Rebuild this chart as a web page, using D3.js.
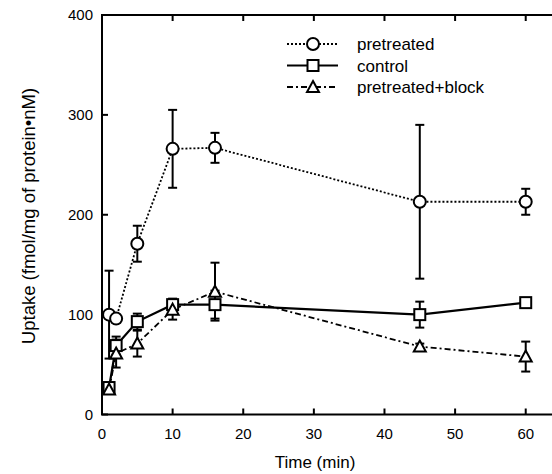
<!DOCTYPE html>
<html>
<head>
<meta charset="UTF-8">
<script src="https://d3js.org/d3.v7.min.js"></script>
<style>
  body { margin: 0; background: #fff; overflow: hidden; }
  svg text { font-family: "Liberation Sans", Arial, sans-serif; fill: #000; }
</style>
</head>
<body>
<div id="chart"></div>
<script>
// data
const times = [1, 2, 5, 10, 16, 45, 60];
const pretreated = [100, 96, 171, 266, 267, 213, 213];
const pretreatedErr = [44, 4, 18, 39, 15, 77, 13];
const control = [27, 69, 93, 110, 110, 100, 112];
const controlErr = [4, 9, 8, 6, 14, 13, 0];
const block = [25, 61, 71, 105, 123, 68, 58];
const blockErr = [3, 14, 13, 10, 29, 3, 15];
const xTicks = [0, 10, 20, 30, 40, 50, 60];
const yTicks = [0, 100, 200, 300, 400];

const series = [
  {name: "pretreated", vals: pretreated, err: pretreatedErr, shape: "circle", dash: "2,2", lw: 1.8},
  {name: "control", vals: control, err: controlErr, shape: "square", dash: null, lw: 2.2},
  {name: "pretreated+block", vals: block, err: blockErr, shape: "triangle", dash: "6,3,2,3", lw: 1.8}
];

const W = 552, H = 474;

const svg = d3.select("#chart").append("svg")
  .attr("width", W).attr("height", H);

const x = d3.scaleLinear().domain([0, 66]).range([102, 102 + 66 * 7.062]);
const y = d3.scaleLinear().domain([0, 400]).range([414.5, 15]);

// frame (left, top, bottom) with inward ticks; right side falls outside the crop
const g = svg.append("g");
g.append("path")
  .attr("d", `M${W},${y(400)}H${x(0)}V${y(0)}H${W}`)
  .attr("fill", "none").attr("stroke", "#000").attr("stroke-width", 2);

g.selectAll(".xt").data(xTicks).enter().append("line")
  .attr("x1", d => x(d)).attr("x2", d => x(d))
  .attr("y1", y(0)).attr("y2", y(0) - 6)
  .attr("stroke", "#000").attr("stroke-width", 2);
g.selectAll(".xtt").data(xTicks).enter().append("line")
  .attr("x1", d => x(d)).attr("x2", d => x(d))
  .attr("y1", y(400)).attr("y2", y(400) + 6)
  .attr("stroke", "#000").attr("stroke-width", 2);
g.selectAll(".yt").data(yTicks).enter().append("line")
  .attr("x1", x(0)).attr("x2", x(0) + 6)
  .attr("y1", d => y(d)).attr("y2", d => y(d))
  .attr("stroke", "#000").attr("stroke-width", 2);

g.selectAll(".xl").data(xTicks).enter().append("text")
  .attr("x", d => x(d)).attr("y", y(0) + 24)
  .attr("text-anchor", "middle").style("font-size", "15px")
  .text(d => d);
g.selectAll(".yl").data(yTicks).enter().append("text")
  .attr("x", x(0) - 9).attr("y", d => y(d) + 5)
  .attr("text-anchor", "end").style("font-size", "15px")
  .text(d => d);

svg.append("text")
  .attr("x", 315).attr("y", 468)
  .attr("text-anchor", "middle").style("font-size", "17px")
  .text("Time (min)");
svg.append("text")
  .attr("transform", `translate(35, 216) rotate(-90)`)
  .attr("text-anchor", "middle").style("font-size", "18.5px")
  .text("Uptake (fmol/mg of protein•nM)");

function marker(sel, shape) {
  if (shape === "circle") {
    sel.append("circle").attr("r", 6);
  } else if (shape === "square") {
    sel.append("rect").attr("x", -5.5).attr("y", -5.5).attr("width", 11).attr("height", 11);
  } else {
    sel.append("path").attr("d", "M0,-6L6,5L-6,5Z");
  }
  sel.selectAll("*").attr("fill", "#fff").attr("stroke", "#000").attr("stroke-width", 2);
}

const line = d3.line().x(d => x(d[0])).y(d => y(d[1]));

series.forEach(s => {
  const pts = times.map((t, i) => [t, s.vals[i], s.err[i]]);
  svg.append("path")
    .attr("d", line(pts))
    .attr("fill", "none").attr("stroke", "#000")
    .attr("stroke-width", s.lw)
    .attr("stroke-dasharray", s.dash);
  const eb = svg.append("g");
  pts.filter(p => p[2] > 0).forEach(p => {
    const cx = x(p[0]);
    eb.append("line").attr("x1", cx).attr("x2", cx)
      .attr("y1", y(p[1] + p[2])).attr("y2", y(p[1] - p[2]))
      .attr("stroke", "#000").attr("stroke-width", 2);
    [p[1] + p[2], p[1] - p[2]].forEach(v => {
      eb.append("line").attr("x1", cx - 4.5).attr("x2", cx + 4.5)
        .attr("y1", y(v)).attr("y2", y(v))
        .attr("stroke", "#000").attr("stroke-width", 2);
    });
  });
});

series.forEach(s => {
  times.forEach((t, i) => {
    const m = svg.append("g").attr("transform", `translate(${x(t)},${y(s.vals[i])})`);
    marker(m, s.shape);
  });
});

// legend
const leg = svg.append("g");
series.forEach((s, i) => {
  const ly = 44 + i * 21.5;
  leg.append("line").attr("x1", 287).attr("x2", 338)
    .attr("y1", ly).attr("y2", ly)
    .attr("stroke", "#000").attr("stroke-width", s.lw)
    .attr("stroke-dasharray", s.dash);
  const m = leg.append("g").attr("transform", `translate(313,${ly})`);
  marker(m, s.shape);
  leg.append("text").attr("x", 357).attr("y", ly + 6)
    .style("font-size", "17px").text(s.name);
});
</script>
</body>
</html>
